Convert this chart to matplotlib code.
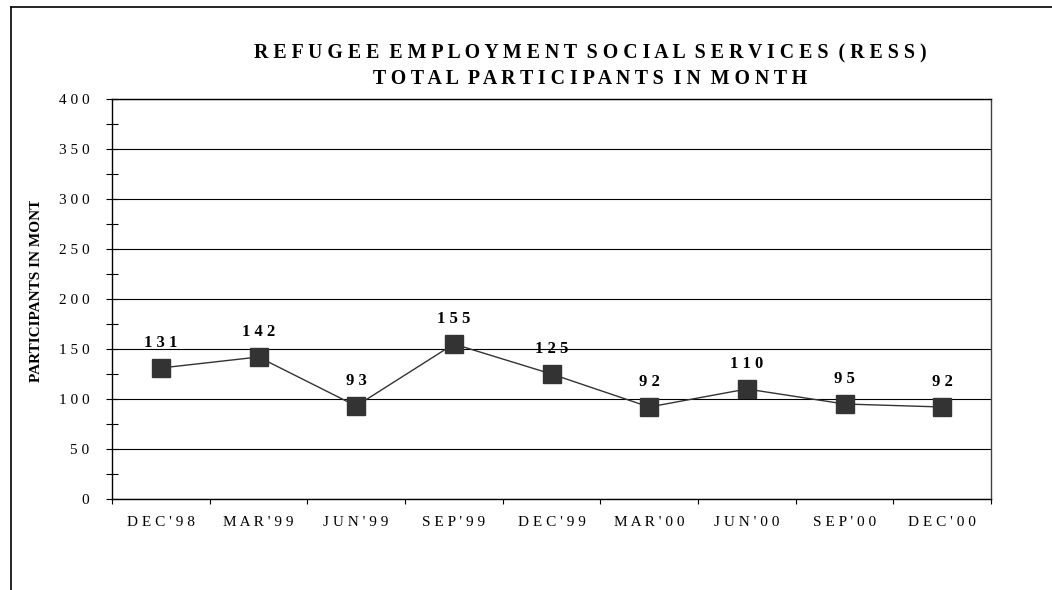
import numpy as np
import matplotlib.pyplot as plt
from matplotlib.lines import Line2D
from matplotlib.ticker import MultipleLocator, FixedLocator
from matplotlib.transforms import Bbox

# chart data
quarters = ["DEC'98", "MAR'99", "JUN'99", "SEP'99", "DEC'99",
            "MAR'00", "JUN'00", "SEP'00", "DEC'00"]
participants = [131, 142, 93, 155, 125, 92, 110, 95, 92]

title_lines = ["REFUGEE EMPLOYMENT SOCIAL SERVICES (RESS)",
               "TOTAL PARTICIPANTS IN MONTH"]
y_label = "PARTICIPANTS IN MONTH"


def spaced(text, gap="   "):
    # old Excel-style letter spacing
    return gap.join(" ".join(word) for word in text.split(" "))


plt.rcParams['font.family'] = ['Liberation Serif', 'DejaVu Serif']

W, H = 1052, 590
fig = plt.figure(figsize=(W / 100, H / 100), dpi=100)
ax = fig.add_axes([112 / W, 1 - 499 / H, (991 - 112) / W, (499 - 99) / H])

x = np.arange(len(quarters))
ax.plot(x, participants, color='#333333', lw=1.0, marker='s', markersize=13.5,
        markerfacecolor='#333333', markeredgecolor='#333333', zorder=3)

for xi, v in zip(x, participants):
    ax.annotate(spaced(str(v)), (xi, v), xytext=(0, 12), textcoords='offset points',
                ha='center', va='bottom', fontsize=12, fontweight='bold')

ax.set_xlim(-0.5, len(quarters) - 0.5)
ax.set_ylim(0, 400)

# y axis: majors every 50 with gridlines, crossing minor ticks
ax.yaxis.set_major_locator(MultipleLocator(50))
ax.yaxis.set_minor_locator(MultipleLocator(25))
ax.set_yticklabels([spaced(str(int(t))) for t in ax.get_yticks()])
ax.tick_params(axis='y', which='both', direction='inout', length=8.5, width=0.8,
               labelsize=11, pad=12)
ax.grid(axis='y', which='major', color='black', lw=0.8)

# x axis: ticks between categories
ax.xaxis.set_major_locator(FixedLocator(np.arange(-0.5, len(quarters), 1.0)))
ax.xaxis.set_minor_locator(FixedLocator(x))
ax.set_xticklabels([])
ax.set_xticklabels([spaced(q) for q in quarters], minor=True)
ax.tick_params(axis='x', which='major', direction='out', length=3.6, width=0.8)
ax.tick_params(axis='x', which='minor', length=0, labelsize=11, pad=12)

for side in ['left', 'bottom', 'top']:
    ax.spines[side].set_color('black')
    ax.spines[side].set_linewidth(1.0)
ax.spines['right'].set_color('#404040')
ax.spines['right'].set_linewidth(1.0)

# title
fig.text(590 / W, 1 - 53 / H, spaced(title_lines[0], "  "), ha='center', va='center',
         fontsize=14.3, fontweight='bold')
fig.text(590 / W, 1 - 79 / H, spaced(title_lines[1], "  "), ha='center', va='center',
         fontsize=14.3, fontweight='bold')

# y label, clipped at the top as in the source
yl = fig.text(37 / W, 1 - 382 / H, y_label, rotation=90, ha='center', va='bottom',
              fontsize=11, fontweight='bold')
yl.set_clip_box(Bbox.from_extents(0, 0, 100, H - 201))

# outer frame (left and top only visible)
fig.add_artist(Line2D([11 / W, 11 / W], [0, 1 - 7 / H], color='black', lw=1.2))
fig.add_artist(Line2D([11 / W, 1], [1 - 7 / H, 1 - 7 / H], color='black', lw=1.2))

fig.savefig('out.png', dpi=100)
